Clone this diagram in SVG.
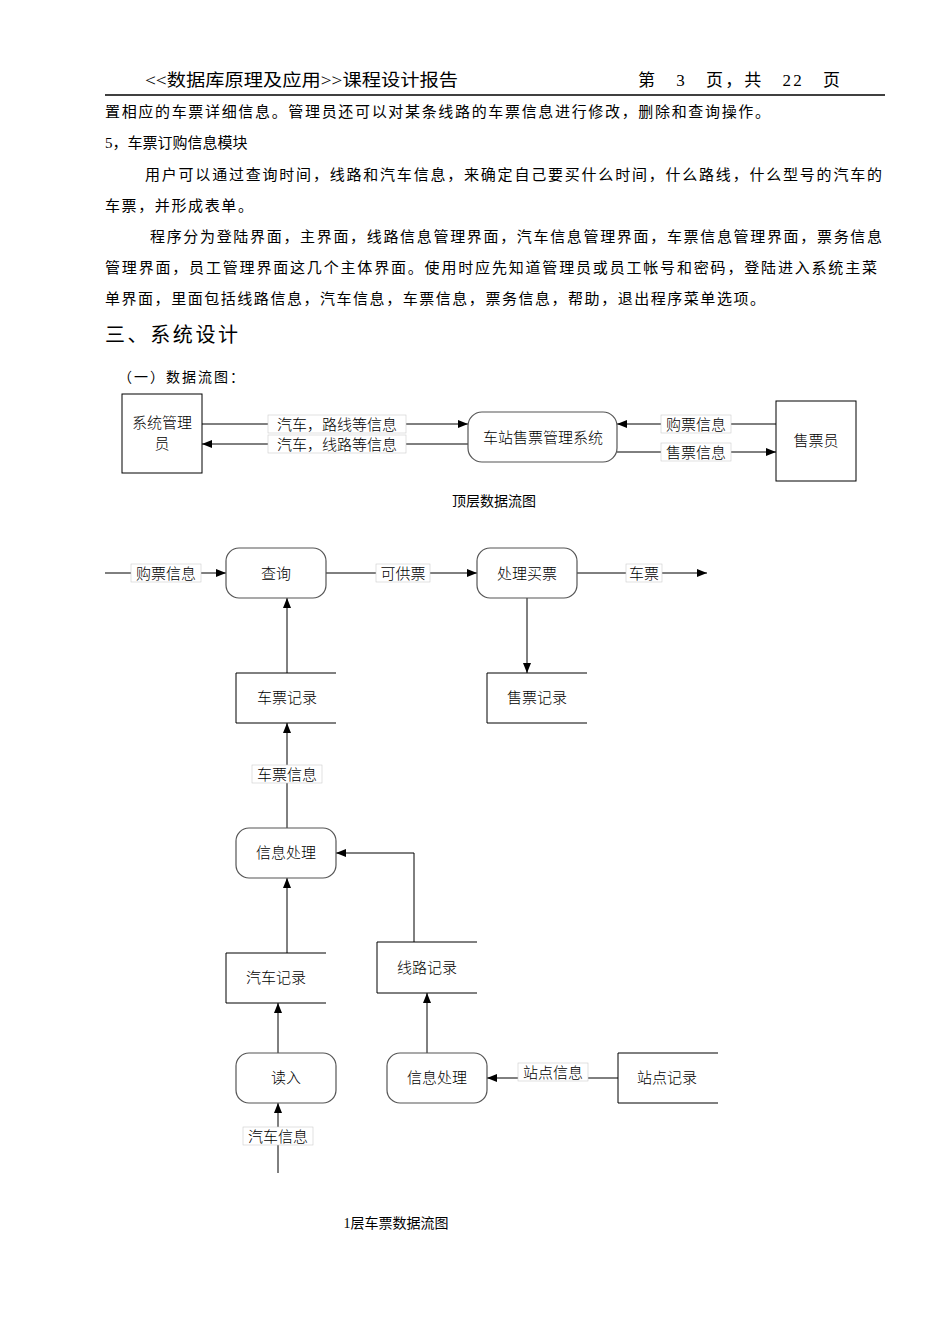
<svg xmlns="http://www.w3.org/2000/svg" width="950" height="1344" viewBox="0 0 950 1344">
<style>
text{font-family:"Liberation Serif","Noto Sans CJK SC",serif;fill:#000}
.b{font-size:15px}
.l{font-size:15px;font-family:"Noto Sans CJK SC",sans-serif;font-weight:300;text-anchor:middle}
.c{text-anchor:middle}
.s{fill:#fff;stroke:#000;stroke-width:1}
.r{fill:#fff;stroke:#555;stroke-width:1.2}
.o{fill:none;stroke:#000;stroke-width:1}
.lb{fill:#fff;stroke:#ccc;stroke-width:0.6}
</style>
<defs><marker id="a" viewBox="0 0 10 10" refX="10" refY="5" markerWidth="10" markerHeight="10" markerUnits="userSpaceOnUse" orient="auto"><path d="M0,1 L10,5 L0,9 z" fill="#000"/></marker></defs>
<rect width="950" height="1344" fill="#fff"/>
<text x="145" y="86" style="font-size:17px" textLength="313" lengthAdjust="spacingAndGlyphs">&lt;&lt;数据库原理及应用&gt;&gt;课程设计报告</text>
<text x="638" y="86" style="font-size:17px" textLength="202">第　3　页，共　22　页</text>
<line x1="105" y1="95" x2="885" y2="95" stroke="#000" stroke-width="1.5"/>
<text x="105" y="117" class="b" textLength="665">置相应的车票详细信息。管理员还可以对某条线路的车票信息进行修改，删除和查询操作。</text>
<text x="105" y="148" class="b">5，车票订购信息模块</text>
<text x="145" y="180" class="b" textLength="737">用户可以通过查询时间，线路和汽车信息，来确定自己要买什么时间，什么路线，什么型号的汽车的</text>
<text x="105" y="211" class="b" textLength="148">车票，并形成表单。</text>
<text x="150" y="242" class="b" textLength="732">程序分为登陆界面，主界面，线路信息管理界面，汽车信息管理界面，车票信息管理界面，票务信息</text>
<text x="105" y="273" class="b" textLength="772">管理界面，员工管理界面这几个主体界面。使用时应先知道管理员或员工帐号和密码，登陆进入系统主菜</text>
<text x="105" y="304" class="b" textLength="660">单界面，里面包括线路信息，汽车信息，车票信息，票务信息，帮助，退出程序菜单选项。</text>
<text x="105" y="342" style="font-size:20px" textLength="133">三、系统设计</text>
<text x="118" y="382" style="font-size:14px" textLength="126">（一）数据流图：</text>

<g id="connectors">
<line class="o" x1="202" y1="424" x2="468" y2="424" marker-end="url(#a)"/>
<line class="o" x1="468" y1="444" x2="202" y2="444" marker-end="url(#a)"/>
<line class="o" x1="776" y1="424" x2="617" y2="424" marker-end="url(#a)"/>
<line class="o" x1="617" y1="452" x2="776" y2="452" marker-end="url(#a)"/>
<line class="o" x1="105" y1="573" x2="226" y2="573" marker-end="url(#a)"/>
<line class="o" x1="326" y1="573" x2="477" y2="573" marker-end="url(#a)"/>
<line class="o" x1="577" y1="573" x2="707" y2="573" marker-end="url(#a)"/>
<line class="o" x1="287" y1="673" x2="287" y2="598" marker-end="url(#a)"/>
<line class="o" x1="527" y1="598" x2="527" y2="673" marker-end="url(#a)"/>
<line class="o" x1="287" y1="828" x2="287" y2="723" marker-end="url(#a)"/>
<line class="o" x1="287" y1="953" x2="287" y2="878" marker-end="url(#a)"/>
<polyline class="o" points="414,942 414,853 336,853" marker-end="url(#a)"/>
<line class="o" x1="278" y1="1053" x2="278" y2="1003" marker-end="url(#a)"/>
<line class="o" x1="427" y1="1053" x2="427" y2="993" marker-end="url(#a)"/>
<line class="o" x1="618" y1="1078" x2="487" y2="1078" marker-end="url(#a)"/>
<line class="o" x1="278" y1="1173" x2="278" y2="1103" marker-end="url(#a)"/>
<rect class="lb" x="268" y="415" width="138" height="18"/><text class="l" x="337" y="430">汽车，路线等信息</text>
<rect class="lb" x="268" y="435" width="138" height="18"/><text class="l" x="337" y="450">汽车，线路等信息</text>
<rect class="lb" x="661" y="415" width="70" height="18"/><text class="l" x="696" y="430">购票信息</text>
<rect class="lb" x="661" y="443" width="70" height="18"/><text class="l" x="696" y="458">售票信息</text>
<rect class="lb" x="131" y="564" width="70" height="18"/><text class="l" x="166" y="579">购票信息</text>
<rect class="lb" x="376" y="564" width="54" height="18"/><text class="l" x="403" y="579">可供票</text>
<rect class="lb" x="626" y="564" width="36" height="18"/><text class="l" x="644" y="579">车票</text>
<rect class="lb" x="252" y="765" width="70" height="18"/><text class="l" x="287" y="780">车票信息</text>
<rect class="lb" x="518" y="1063" width="70" height="18"/><text class="l" x="553" y="1078">站点信息</text>
<rect class="lb" x="243" y="1127" width="70" height="18"/><text class="l" x="278" y="1142">汽车信息</text>
</g>

<g id="admin"><rect class="s" x="122" y="394" width="80" height="79"/><text class="l" x="162" y="428">系统管理</text><text class="l" x="162" y="449">员</text></g>
<g id="system"><rect class="r" x="468" y="412" width="149" height="50" rx="14"/><text class="l" x="543" y="443">车站售票管理系统</text></g>
<g id="seller"><rect class="s" x="776" y="401" width="80" height="80"/><text class="l" x="816" y="446">售票员</text></g>
<text class="c" x="494" y="506" style="font-size:14px">顶层数据流图</text>

<g id="query"><rect class="r" x="226" y="548" width="100" height="50" rx="13"/><text class="l" x="276" y="579">查询</text></g>
<g id="buy"><rect class="r" x="477" y="548" width="100" height="50" rx="13"/><text class="l" x="527" y="579">处理买票</text></g>
<g id="ticketrec"><path class="o" d="M336,673 H236 V723 H336"/><text class="l" x="287" y="703">车票记录</text></g>
<g id="salerec"><path class="o" d="M587,673 H487 V723 H587"/><text class="l" x="537" y="703">售票记录</text></g>
<g id="proc1"><rect class="r" x="236" y="828" width="100" height="50" rx="13"/><text class="l" x="286" y="858">信息处理</text></g>
<g id="carrec"><path class="o" d="M326,953 H226 V1003 H326"/><text class="l" x="276" y="983">汽车记录</text></g>
<g id="routerec"><path class="o" d="M477,942 H377 V993 H477"/><text class="l" x="427" y="973">线路记录</text></g>
<g id="read"><rect class="r" x="236" y="1053" width="100" height="50" rx="13"/><text class="l" x="286" y="1083">读入</text></g>
<g id="proc2"><rect class="r" x="387" y="1053" width="100" height="50" rx="13"/><text class="l" x="437" y="1083">信息处理</text></g>
<g id="stationrec"><path class="o" d="M718,1053 H618 V1103 H718"/><text class="l" x="667" y="1083">站点记录</text></g>
<text class="c" x="396" y="1228" style="font-size:14px">1层车票数据流图</text>
</svg>
